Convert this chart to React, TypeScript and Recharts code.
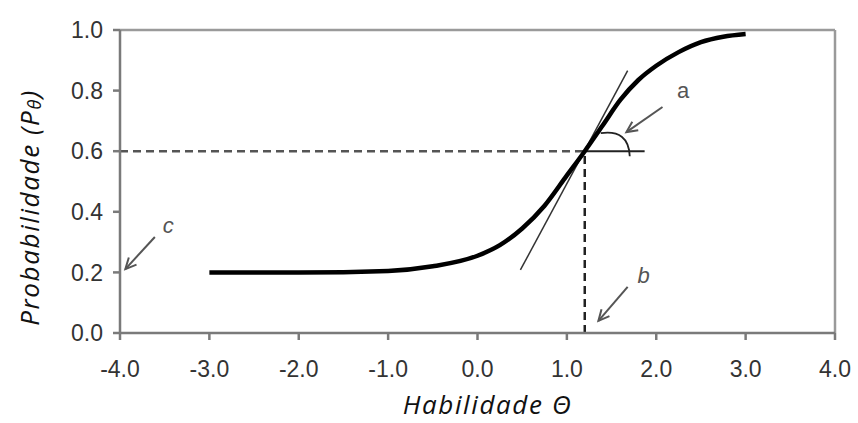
import React from 'react';
import {
  LineChart,
  Line,
  XAxis,
  YAxis,
  ReferenceLine,
  ReferenceDot,
  Label,
} from 'recharts';

// Item characteristic curve
const thetaValues = [-3, -2, -1, -0.5, 0, 0.25, 0.5, 0.75, 1.0, 1.2, 1.4, 1.6, 1.8, 2.0, 2.25, 2.5, 2.75, 3.0];
const probValues = [0.2, 0.2, 0.205, 0.22, 0.255, 0.29, 0.345, 0.42, 0.52, 0.6, 0.685, 0.77, 0.835, 0.882, 0.927, 0.96, 0.978, 0.987];

const xTicks = [-4, -3, -2, -1, 0, 1, 2, 3, 4];
const yTicks = [0, 0.2, 0.4, 0.6, 0.8, 1.0];

// difficulty (b) and probability at b
const bValue = 1.2;
const pAtB = 0.6;

// tangent line at b (slope ~ discrimination)
const tangentStart = { x: 0.48, y: 0.208 };
const tangentEnd = { x: 1.68, y: 0.866 };
const angleLineEnd = 1.87;

// annotation arrows: tail -> head, with letter
const arrows = [
  { name: 'a', tail: { x: 2.07, y: 0.746 }, head: { x: 1.666, y: 0.663 }, label: { x: 2.3, y: 0.8 }, italic: false },
  { name: 'b', tail: { x: 1.68, y: 0.152 }, head: { x: 1.353, y: 0.04 }, label: { x: 1.86, y: 0.19 }, italic: true },
  { name: 'c', tail: { x: -3.61, y: 0.317 }, head: { x: -3.94, y: 0.211 }, label: { x: -3.46, y: 0.355 }, italic: true },
];

const data = thetaValues.map((t, i) => ({ theta: t, p: probValues[i] }));

const tickStyle = { fill: '#333', fontSize: 23, fontFamily: 'Liberation Sans, Arial, sans-serif' };
const titleFont = '"Open Sans", "Noto Sans", sans-serif';

function ArrowShape(props: any) {
  const { x1, y1, x2, y2 } = props;
  if ([x1, y1, x2, y2].some((v) => v === undefined || isNaN(v))) return null;
  const ang = Math.atan2(y2 - y1, x2 - x1);
  const len = 12;
  const spread = 0.45;
  const p1 = [x2 - len * Math.cos(ang - spread), y2 - len * Math.sin(ang - spread)];
  const p2 = [x2 - len * Math.cos(ang + spread), y2 - len * Math.sin(ang + spread)];
  return (
    <g stroke="#555" strokeWidth={2} fill="none">
      <line x1={x1} y1={y1} x2={x2} y2={y2} />
      <polyline points={`${p1[0]},${p1[1]} ${x2},${y2} ${p2[0]},${p2[1]}`} />
    </g>
  );
}

function AngleArc(props: any) {
  const { cx, cy } = props;
  if (cx === undefined || cy === undefined) return null;
  return (
    <path
      d={`M ${cx + 16} ${cy - 18} Q ${cx + 44} ${cy - 22} ${cx + 45} ${cy + 5}`}
      stroke="#222"
      strokeWidth={1.8}
      fill="none"
    />
  );
}

function letterShape(text: string, italic: boolean) {
  return (props: any) => (
    <text
      x={props.cx}
      y={props.cy}
      textAnchor="middle"
      dominantBaseline="central"
      fontSize={22}
      fontStyle={italic ? 'italic' : 'normal'}
      fontFamily="Liberation Sans, Arial, sans-serif"
      fill="#555"
    >
      {text}
    </text>
  );
}

function XTitle(props: any) {
  const vb = props.viewBox || { x: 120, y: 333, width: 715, height: 90 };
  const x = vb.x + vb.width / 2 + 10;
  const y = 414;
  return (
    <text
      x={x}
      y={y}
      textAnchor="middle"
      fontSize={26}
      letterSpacing={1.6}
      fontStyle="italic"
      fontFamily={titleFont}
      fill="#111"
    >
      Habilidade Θ
    </text>
  );
}

function YTitle(props: any) {
  const vb = props.viewBox || { x: 0, y: 30, width: 120, height: 303 };
  const x = 29;
  const y = vb.y + vb.height / 2 + 26;
  return (
    <text
      x={x}
      y={y}
      transform={`rotate(-90, ${x}, ${y})`}
      textAnchor="middle"
      dominantBaseline="central"
      fontSize={26}
      letterSpacing={1.6}
      fontStyle="italic"
      fontFamily={titleFont}
      fill="#111"
    >
      Probabilidade (P
      <tspan fontSize={18} dy={5}>θ</tspan>
      <tspan dy={-5}>)</tspan>
    </text>
  );
}

export default function App() {
  return (
    <div style={{ position: 'absolute', left: 0, top: 0, background: '#fff' }}>
      <LineChart width={858} height={423} data={data} margin={{ top: 30, right: 23, left: 0, bottom: 0 }}>
        <XAxis
          dataKey="theta"
          type="number"
          domain={[-4, 4]}
          ticks={xTicks}
          tickFormatter={(v: number) => v.toFixed(1)}
          tick={tickStyle}
          tickSize={7}
          tickMargin={21}
          height={90}
          stroke="#7a7a7a"
          strokeWidth={2.5}
          interval={0}
        >
          <Label content={<XTitle />} />
        </XAxis>
        <YAxis
          type="number"
          domain={[0, 1]}
          ticks={yTicks}
          tickFormatter={(v: number) => v.toFixed(1)}
          tick={tickStyle}
          tickSize={7}
          tickMargin={10}
          width={120}
          stroke="#7a7a7a"
          strokeWidth={2.5}
          interval={0}
        >
          <Label content={<YTitle />} />
        </YAxis>

        {/* plot frame top and right */}
        <ReferenceLine y={1} stroke="#9a9a9a" strokeWidth={2.5} ifOverflow="extendDomain" />
        <ReferenceLine x={4} stroke="#9a9a9a" strokeWidth={2.5} />

        {/* dashed guides at b */}
        <ReferenceLine
          segment={[{ x: -4, y: pAtB }, { x: bValue, y: pAtB }]}
          stroke="#555"
          strokeWidth={2.5}
          strokeDasharray="8 5"
        />
        <ReferenceLine
          segment={[{ x: bValue, y: 0 }, { x: bValue, y: pAtB }]}
          stroke="#222"
          strokeWidth={2.5}
          strokeDasharray="8 5"
        />

        {/* tangent and angle */}
        <ReferenceLine
          segment={[tangentStart, tangentEnd]}
          stroke="#333"
          strokeWidth={1.5}
        />
        <ReferenceLine
          segment={[{ x: bValue, y: pAtB }, { x: angleLineEnd, y: pAtB }]}
          stroke="#222"
          strokeWidth={2}
        />
        <ReferenceDot x={bValue} y={pAtB} r={0} shape={<AngleArc />} />

        <Line
          type="monotone"
          dataKey="p"
          stroke="#000"
          strokeWidth={4.5}
          dot={false}
          isAnimationActive={false}
        />

        {arrows.map((a) => (
          <ReferenceLine
            key={a.name + '-arrow'}
            segment={[a.tail, a.head]}
            shape={<ArrowShape />}
          />
        ))}
        {arrows.map((a) => (
          <ReferenceDot
            key={a.name + '-label'}
            x={a.label.x}
            y={a.label.y}
            r={0}
            shape={letterShape(a.name, a.italic)}
          />
        ))}
      </LineChart>
    </div>
  );
}
